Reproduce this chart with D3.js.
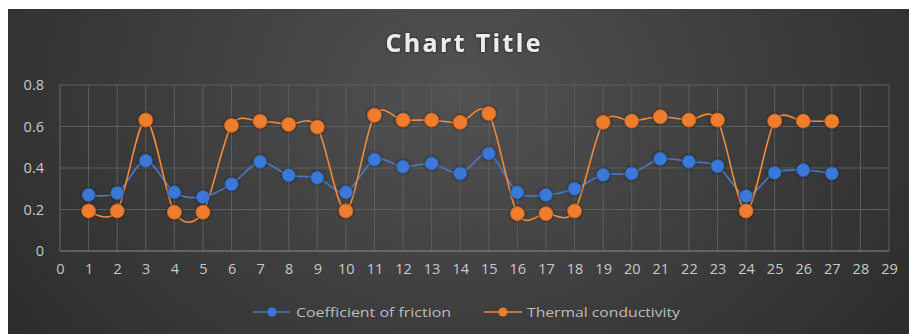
<!DOCTYPE html>
<html><head><meta charset="utf-8">
<script src="https://cdn.jsdelivr.net/npm/d3@7"></script>
<style>body{margin:0;background:#fff;}svg{display:block;}</style>
</head><body>
<svg id="chart" width="909" height="334"></svg>
<script>
const categories = d3.range(1, 28);
const friction = [0.27,0.28,0.435,0.283,0.26,0.322,0.43,0.365,0.353,0.283,0.441,0.406,0.422,0.374,0.47,0.283,0.27,0.3,0.367,0.374,0.444,0.43,0.409,0.264,0.377,0.39,0.374];
const conductivity = [0.193,0.193,0.631,0.187,0.187,0.605,0.625,0.61,0.597,0.193,0.654,0.631,0.631,0.62,0.663,0.18,0.18,0.193,0.62,0.626,0.647,0.631,0.631,0.193,0.626,0.626,0.625];
const xTicks = d3.range(0, 30);
const yTicks = [0, 0.2, 0.4, 0.6, 0.8];
const seriesNames = ["Coefficient of friction", "Thermal conductivity"];
const colors = ["#3b78d8", "#ef7d2e"];
const lineColors = ["#4a78c4", "#f08a3c"];

const svg = d3.select("#chart");
const defs = svg.append("defs");
const g1 = defs.append("radialGradient").attr("id","bg").attr("cx","50%").attr("cy","25%").attr("r","75%")
  .attr("gradientTransform","translate(0.5,0.25) scale(1,2.2) translate(-0.5,-0.25)");
g1.append("stop").attr("offset","0%").attr("stop-color","#525252");
g1.append("stop").attr("offset","55%").attr("stop-color","#383838");
g1.append("stop").attr("offset","100%").attr("stop-color","#232323");
const f = defs.append("filter").attr("id","glow").attr("x","-50%").attr("y","-50%").attr("width","200%").attr("height","200%");
f.append("feDropShadow").attr("dx",0).attr("dy",0).attr("stdDeviation",1.5).attr("flood-color","#000").attr("flood-opacity",0.7);

svg.append("rect").attr("x",8).attr("y",9).attr("width",901).attr("height",325).attr("fill","url(#bg)");

const x = d3.scaleLinear().domain([0, 29]).range([60, 889]);
const y = d3.scaleLinear().domain([0, 0.8]).range([251, 85]);

// gridlines
svg.append("g").selectAll("line").data(xTicks.slice(1)).join("line")
  .attr("x1", d=>x(d)).attr("x2", d=>x(d)).attr("y1", y(0.8)).attr("y2", y(0))
  .attr("stroke","#5e5e5e").attr("stroke-width",1);
svg.append("g").selectAll("line").data(yTicks.slice(1)).join("line")
  .attr("x1", x(0)).attr("x2", x(29)).attr("y1", d=>y(d)).attr("y2", d=>y(d))
  .attr("stroke","#5e5e5e").attr("stroke-width",1);
svg.append("line").attr("x1",x(0)).attr("x2",x(0)).attr("y1",y(0.8)).attr("y2",y(0)).attr("stroke","#6a6a6a");
svg.append("line").attr("x1",x(0)).attr("x2",x(29)).attr("y1",y(0)).attr("y2",y(0)).attr("stroke","#8c8c8c").attr("stroke-width",1.2);

// axes labels
const yAxis = d3.axisLeft(y).tickValues(yTicks).tickSize(0).tickPadding(16).tickFormat(d=>d===0?"0":d3.format(".1f")(d));
const ya = svg.append("g").attr("transform",`translate(${x(0)},0)`).call(yAxis);
ya.select(".domain").remove();
ya.selectAll("text").attr("fill","#c8c8c8").attr("font-family","'Open Sans', sans-serif").attr("font-size",14.5);

const xAxis = d3.axisBottom(x).tickValues(xTicks).tickSize(0).tickPadding(13).tickFormat(d3.format("d"));
const xa = svg.append("g").attr("transform",`translate(0,${y(0)})`).call(xAxis);
xa.select(".domain").remove();
xa.selectAll("text").attr("fill","#c8c8c8").attr("font-family","'Open Sans', sans-serif").attr("font-size",14.5);

// title
svg.append("text").attr("x",463).attr("y",52).attr("text-anchor","middle")
  .attr("font-family","'Open Sans', sans-serif").attr("font-weight","bold").attr("font-size",25)
  .attr("fill","#ececec").attr("textLength",155).attr("lengthAdjust","spacing").attr("filter","url(#glow)").text("Chart Title");

// lines
const series = [friction, conductivity];
const line = d3.line().x((d,i)=>x(categories[i])).y(d=>y(d)).curve(d3.curveCardinal.tension(0.1));
series.forEach((s, k) => {
  svg.append("path").datum(s).attr("d", line).attr("fill","none")
    .attr("stroke", lineColors[k]).attr("stroke-width", 1.6);
});
series.forEach((s, k) => {
  svg.append("g").selectAll("circle").data(s).join("circle")
    .attr("cx",(d,i)=>x(categories[i])).attr("cy",d=>y(d)).attr("r", k===0?6.5:7)
    .attr("fill",colors[k]).attr("stroke", k===0?"#2f5fa8":"#c8601c").attr("stroke-width",0.8)
    .attr("filter","url(#glow)");
});

// legend
const legend = [
  {x1:253, x2:290, cx:272, tx:296, tw:155},
  {x1:484, x2:522, cx:503, tx:527, tw:153}
];
legend.forEach((l,k)=>{
  svg.append("line").attr("x1",l.x1).attr("x2",l.x2).attr("y1",312).attr("y2",312).attr("stroke",lineColors[k]).attr("stroke-width",1.6);
  svg.append("circle").attr("cx",l.cx).attr("cy",312).attr("r",4.5).attr("fill",colors[k]);
  svg.append("text").attr("x",l.tx).attr("y",316.5).attr("font-family","'Open Sans', sans-serif").attr("font-size",13)
    .attr("fill","#bdbdbd").attr("textLength",l.tw).attr("lengthAdjust","spacingAndGlyphs").text(seriesNames[k]);
});
</script>
</body></html>
